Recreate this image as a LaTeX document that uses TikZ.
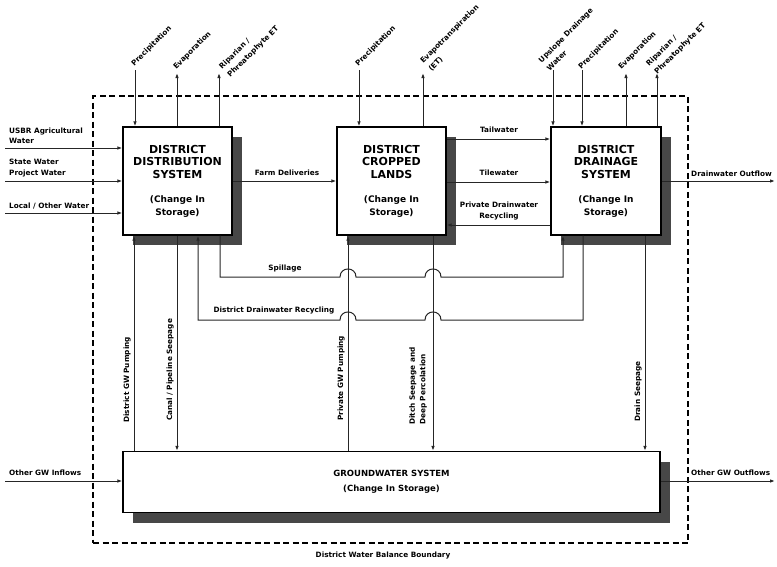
\documentclass[tikz,border=0pt]{standalone}
\usepackage{fontspec}
\setmainfont{DejaVu Sans}
\newcommand\bt{\fontsize{11}{13.5}\selectfont\bfseries}
\usetikzlibrary{arrows.meta,shadows}
\begin{document}
\begin{tikzpicture}[x=1pt,y=-1pt,
  ln/.style={line width=1pt, draw=black!85},
  arr/.style={ln, -{Latex[length=5pt,width=3.6pt]}},
  box/.style={draw=black, line width=1.3pt, fill=white, align=center, inner sep=0pt,
     font=\fontsize{9}{12.5}\selectfont\bfseries,
     drop shadow={shadow xshift=10pt, shadow yshift=-10pt, fill=black!72, opacity=1}},
  lbl/.style={font=\fontsize{7.3}{10.5}\selectfont\bfseries, inner sep=1pt, align=left},
  tlbl/.style={lbl, font=\fontsize{7.3}{11.5}\selectfont\bfseries, rotate=45, anchor=west},
  vlbl/.style={lbl, rotate=90, anchor=south west},
  bound/.style={draw=black, line width=1.3pt, dash pattern=on 6pt off 3.5pt},
]
\useasboundingbox (0,0) rectangle (777,566);

% boundary
\node[bound, minimum width=595pt, minimum height=447pt, inner sep=0pt] (bnd) at (390.5,319.5) {};
\node[lbl, anchor=north] (bndl) at (383,551) {District Water Balance Boundary};

% boxes
\node[box, minimum width=109pt, minimum height=108pt] (b1) at (177.5,181)
  {\bt DISTRICT\\\bt DISTRIBUTION\\\bt SYSTEM\\[12pt](Change In\\Storage)};
\node[box, minimum width=109pt, minimum height=108pt] (b2) at (391.5,181)
  {\bt DISTRICT\\\bt CROPPED\\\bt LANDS\\[12pt](Change In\\Storage)};
\node[box, minimum width=110pt, minimum height=108pt] (b3) at (606,181)
  {\bt DISTRICT\\\bt DRAINAGE\\\bt SYSTEM\\[12pt](Change In\\Storage)};
\node[box, minimum width=537pt, minimum height=61pt, font=\fontsize{8.5}{14.5}\selectfont\bfseries] (gw) at (391.5,482)
  {GROUNDWATER SYSTEM\\(Change In Storage)};

% top arrows
\coordinate (t1) at (135,70);
\coordinate (t2) at (177,73);
\coordinate (t3) at (219,73);
\coordinate (t4) at (359,70);
\coordinate (t5) at (423,73);
\coordinate (t6) at (553,70);
\coordinate (t7) at (582,70);
\coordinate (t8) at (626,73);
\coordinate (t9) at (657,73);
\draw[arr] (t1) -- (t1 |- b1.north);
\draw[arr] (t2 |- b1.north) -- (t2);
\draw[arr] (t3 |- b1.north) -- (t3);
\draw[arr] (t4) -- (t4 |- b2.north);
\draw[arr] (t5 |- b2.north) -- (t5);
\draw[arr] (t6) -- (t6 |- b3.north);
\draw[arr] (t7) -- (t7 |- b3.north);
\draw[arr] (t8 |- b3.north) -- (t8);
\draw[arr] (t9 |- b3.north) -- (t9);
\node[tlbl] (l1) at (132,66) {Precipitation};
\node[tlbl] (l2) at (174,69) {Evaporation};
\node[tlbl] (l3) at (224,73) {Riparian /\\Phreatophyte ET};
\node[tlbl] (l4) at (356,66) {Precipitation};
\node[tlbl] (l5) at (425,67) {Evapotranspiration\\(ET)};
\node[tlbl] (l6) at (543,66) {Upslope Drainage\\Water};
\node[tlbl] (l7) at (579,69) {Precipitation};
\node[tlbl] (l8) at (619,69) {Evaporation};
\node[tlbl] (l9) at (651,70) {Riparian /\\Phreatophyte ET};

% left inputs
\coordinate (in1) at (5,148);
\coordinate (in2) at (5,181);
\coordinate (in3) at (5,213);
\draw[arr] (in1) -- (in1 -| b1.west);
\draw[arr] (in2) -- (in2 -| b1.west);
\draw[arr] (in3) -- (in3 -| b1.west);
\node[lbl, anchor=south west] (li1) at (8,145) {USBR Agricultural\\Water};
\node[lbl, anchor=south west] (li2) at (8,178) {State Water\\Project Water};
\node[lbl, anchor=south west] (li3) at (8,210) {Local / Other Water};

% between boxes
\draw[arr] (b1.east) -- (b2.west);
\node[lbl] (lfd) at (287,173) {Farm Deliveries};
\coordinate (ytw) at (0,139);
\coordinate (ytl) at (0,182);
\coordinate (ypr) at (0,225);
\draw[arr] (b2.east |- ytw) -- (b3.west |- ytw);
\draw[arr] (b2.east |- ytl) -- (b3.west |- ytl);
\draw[arr] (b3.west |- ypr) -- (b2.east |- ypr);
\node[lbl] (ltw) at (499,130) {Tailwater};
\node[lbl] (ltl) at (499,173) {Tilewater};
\node[lbl, align=center] (lpr) at (499,211) {Private Drainwater\\Recycling};

% right outputs
\coordinate (dwo) at (775,181);
\draw[arr] (b3.east) -- (dwo);
\node[lbl, anchor=south west] (ldo) at (690,178) {Drainwater Outflow};
\coordinate (gin) at (5,481);
\coordinate (gout) at (775,481);
\draw[arr] (gin) -- (gin -| gw.west);
\draw[arr] (gw.east |- gout) -- (gout);
\node[lbl, anchor=south west] (lgi) at (8,477) {Other GW Inflows};
\node[lbl, anchor=south west] (lgo) at (690,477) {Other GW Outflows};

% vertical connectors
\coordinate (xa) at (134,0);
\coordinate (xb) at (177,0);
\coordinate (xc) at (348,0);
\coordinate (xd) at (433,0);
\coordinate (xe) at (645,0);
\draw[arr] (gw.north -| xa) -- (b1.south -| xa);
\draw[arr] (b1.south -| xb) -- (gw.north -| xb);
\draw[arr] (gw.north -| xc) -- (b2.south -| xc);
\draw[arr] (b2.south -| xd) -- (gw.north -| xd);
\draw[arr] (b3.south -| xe) -- (gw.north -| xe);
\node[vlbl] (lva) at (132,424) {District GW Pumping};
\node[vlbl] (lvb) at (175,422) {Canal / Pipeline Seepage};
\node[vlbl] (lvc) at (346,422) {Private GW Pumping};
\node[vlbl] (lvd) at (428,426) {Ditch Seepage and\\Deep Percolation};
\node[vlbl] (lve) at (643,423) {Drain Seepage};

% spillage and recycling loops with line jumps
\coordinate (xs) at (220,0);
\coordinate (xsp) at (563,0);
\coordinate (xr) at (198,0);
\coordinate (xrr) at (583,0);
\draw[arr] (b1.south -| xs) |- (340,277) .. controls (340,266.3) and (356,266.3) .. (356,277)
   -- (425,277) .. controls (425,266.3) and (441,266.3) .. (441,277) -| (b3.south -| xsp);
\draw[arr] (b3.south -| xrr) |- (441,320) .. controls (441,309.3) and (425,309.3) .. (425,320)
   -- (356,320) .. controls (356,309.3) and (340,309.3) .. (340,320) -| (b1.south -| xr);
\node[lbl] (lsp) at (285,269) {Spillage};
\node[lbl] (ldr) at (274,311) {District Drainwater Recycling};

\end{tikzpicture}
\end{document}
